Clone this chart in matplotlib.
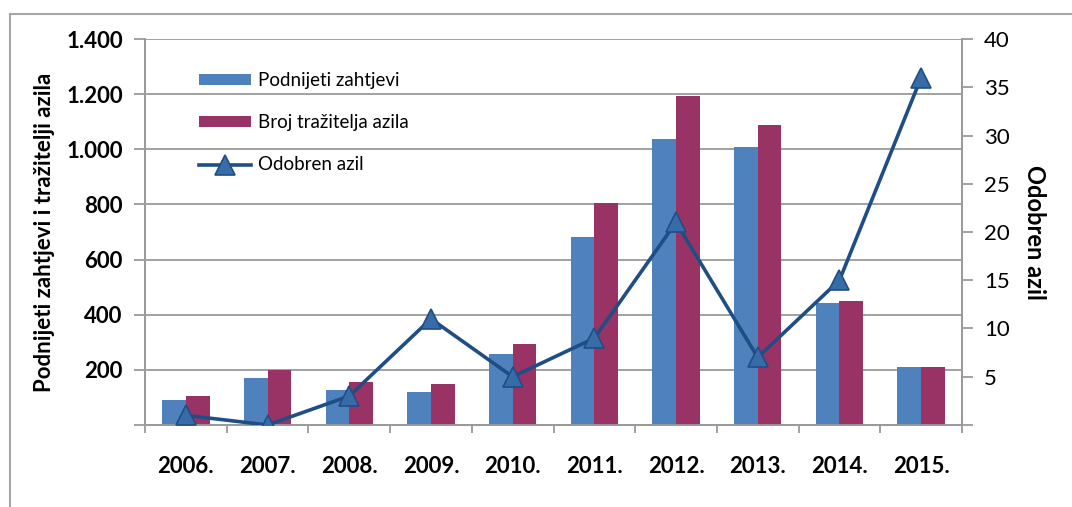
import matplotlib
matplotlib.use("Agg")
import matplotlib.pyplot as plt
import numpy as np
from matplotlib.ticker import FuncFormatter, MultipleLocator

# data
years = ["2006.", "2007.", "2008.", "2009.", "2010.", "2011.", "2012.", "2013.", "2014.", "2015."]
zahtjevi = [91, 170, 127, 120, 258, 682, 1038, 1009, 444, 212]
trazitelji = [105, 200, 156, 149, 294, 806, 1194, 1089, 450, 212]
odobren = [1, 0, 3, 11, 5, 9, 21, 7, 15, 36]

plt.rcParams['font.family'] = ['Lato', 'DejaVu Sans']

fig = plt.figure(figsize=(10.72, 5.07), dpi=100)
ax = fig.add_axes([145 / 1072, 1 - 425 / 507, (962 - 145) / 1072, (425 - 39) / 507])
ax2 = ax.twinx()

x = np.arange(len(years))
w = 0.29
ax.bar(x - w / 2, zahtjevi, w, color="#4F81BD", label="Podnijeti zahtjevi", zorder=3)
ax.bar(x + w / 2, trazitelji, w, color="#993366", label="Broj tražitelja azila", zorder=3)
ln, = ax2.plot(x, odobren, color="#1F4E85", lw=2.6, marker="^", ms=14,
               markerfacecolor="#386CA8", markeredgecolor="#1F4E85", markeredgewidth=1.2,
               label="Odobren azil", zorder=4)

grey = "#9A9A9A"
ax.set_xlim(-0.5, len(years) - 0.5)
ax.set_ylim(0, 1400)
ax2.set_ylim(0, 40)
ax.yaxis.set_major_locator(MultipleLocator(200))
ax2.yaxis.set_major_locator(MultipleLocator(5))
ax.yaxis.grid(True, color=grey, lw=1.3, zorder=0)
ax.set_axisbelow(True)

ax.yaxis.set_major_formatter(FuncFormatter(lambda v, p: "" if v == 0 else f"{int(v):,}".replace(",", ".")))
ax2.yaxis.set_major_formatter(FuncFormatter(lambda v, p: "" if v == 0 else f"{int(v)}"))

ax.set_xticks(x)
ax.set_xticklabels(years, fontsize=16, fontweight="bold")
ax.set_xticks(np.arange(-0.5, len(years)), minor=True)
ax.tick_params(axis="x", which="major", length=0, pad=22)
ax.tick_params(axis="x", which="minor", length=6, color=grey, width=1.3)
ax.tick_params(axis="y", length=8, color=grey, width=1.3, labelsize=16, pad=8)
for t in ax.get_yticklabels():
    t.set_fontweight("bold")
ax2.tick_params(axis="y", length=8, color=grey, width=1.3, labelsize=16, pad=8)

for a in (ax, ax2):
    for s in a.spines.values():
        s.set_color(grey)
        s.set_linewidth(1.3)
ax.spines["top"].set_visible(False)
ax2.spines["top"].set_visible(False)

ax.set_ylabel("Podnijeti zahtjevi i tražitelji azila", fontsize=16, fontweight="bold", labelpad=8)
ax2.set_ylabel("Odobren azil", fontsize=17, fontweight="bold", rotation=-90, labelpad=26)

handles = ax.get_legend_handles_labels()[0] + [ln]
fig.legend(handles, [h.get_label() for h in handles], loc="upper left",
           bbox_to_anchor=(182 / 1072, 1 - 55 / 507), frameon=False, fontsize=13.5,
           handlelength=2.8, handleheight=0.5, labelspacing=1.35, handletextpad=0.35)

# outer chart frame
fig.add_artist(plt.Line2D([10 / 1072, 1], [1 - 14 / 507] * 2, color="#A6A6A6", lw=1.5))
fig.add_artist(plt.Line2D([10 / 1072] * 2, [0, 1 - 14 / 507], color="#A6A6A6", lw=1.5))

fig.savefig("out.png", dpi=100)
